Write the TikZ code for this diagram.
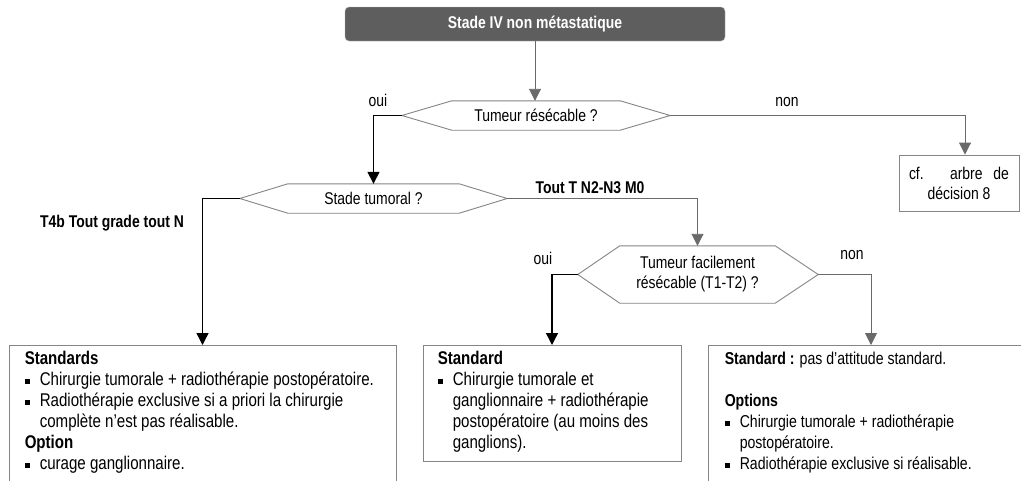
\documentclass[tikz,border=0pt]{standalone}
\usepackage{fontspec}
\setmainfont[FakeStretch=0.82]{Liberation Sans}
\usetikzlibrary{arrows.meta}

\definecolor{titre}{HTML}{5E5E5E}
\definecolor{trait}{HTML}{6A6A6A}
\definecolor{bord}{HTML}{858585}

\newcommand{\puce}{\makebox[15pt][l]{\raisebox{2pt}{\rule{5pt}{5pt}}}}
\newcommand{\suite}{\hspace*{15pt}}

\begin{document}
\begin{tikzpicture}[
	x=1pt,
	y=-1pt,
	font=\fontsize{17}{19}\selectfont,
	fleche/.style={draw=trait, line width=0.9pt,
		-{Triangle[length=12pt,width=12pt]}},
	flechenoire/.style={draw=black, line width=1.4pt,
		-{Triangle[length=12pt,width=12pt]}},
	question/.style={inner sep=0pt, align=center,
		font=\fontsize{17}{20}\selectfont},
	hexa/.style={draw=bord, line width=0.9pt},
	boite/.style={draw=bord, line width=0.9pt, anchor=north},
	texte/.style={anchor=north west, inner sep=0pt, align=left,
		font=\fontsize{18.4}{21}\selectfont}]

\useasboundingbox (0,0) rectangle (1021,480);
\path[fill=white] (0,0) rectangle (1021,480);
\clip (0,0) rectangle (1021,480);

% title
\node[fill=titre, draw=bord!60, rounded corners=4pt, text=white,
	font=\fontsize{17}{19}\bfseries, minimum width=380, minimum height=34]
	(stade) at (535,24) {Stade IV non métastatique};

% first question
\node[question, minimum width=168, minimum height=29]
	(resec) at (536,115.5) {Tumeur résécable ?};
\draw[hexa] (resec.north west) -- (resec.north east)
	-- ([xshift=50pt]resec.east) coordinate (resec-d)
	-- (resec.south east) -- (resec.south west)
	-- ([xshift=-50pt]resec.west) coordinate (resec-g) -- cycle;
\node (oui1) at (378,100) {oui};
\node (non1) at (787,102) {non};

\node[draw=bord, line width=0.9pt, minimum width=120, minimum height=56,
	inner sep=0pt, align=center, font=\fontsize{17}{20}\selectfont]
	(cf) at (959,183) {\makebox[100pt][s]{cf. arbre de}\\décision 8};

% second question
\node[question, minimum width=171, minimum height=29]
	(tumo) at (373.5,198.5) {Stade tumoral ?};
\draw[hexa] (tumo.north west) -- (tumo.north east)
	-- ([xshift=48pt]tumo.east) coordinate (tumo-d)
	-- (tumo.south east) -- (tumo.south west)
	-- ([xshift=-48pt]tumo.west) coordinate (tumo-g) -- cycle;
\node[font=\fontsize{17}{19}\bfseries] (t4b) at (112,223)
	{T4b Tout grade tout N};
\node[font=\fontsize{17}{19}\bfseries] (toutT) at (590,188)
	{Tout T N2-N3 M0};

% third question
\node[question, minimum width=155, minimum height=57]
	(facil) at (697.5,274.5) {Tumeur facilement\\résécable (T1-T2) ?};
\draw[hexa] (facil.north west) -- (facil.north east)
	-- ([xshift=43pt]facil.east) coordinate (facil-d)
	-- (facil.south east) -- (facil.south west)
	-- ([xshift=-42pt]facil.west) coordinate (facil-g) -- cycle;
\node (oui2) at (543,258) {oui};
\node (non2) at (852,255) {non};

% results
\node[boite, minimum width=387, minimum height=160] (b1) at (202.5,345) {};
\node[texte] (t1) at ([xshift=16pt,yshift=-6pt]b1.north west)
	{\textbf{Standards}\\
	\puce Chirurgie tumorale + radiothérapie postopératoire.\\
	\puce Radiothérapie exclusive si a priori la chirurgie\\
	\suite complète n’est pas réalisable.\\
	\textbf{Option}\\
	\puce curage ganglionnaire.};

\node[boite, minimum width=258, minimum height=116] (b2) at (552,345) {};
\node[texte] (t2) at ([xshift=15pt,yshift=-6pt]b2.north west)
	{\textbf{Standard}\\
	\puce Chirurgie tumorale et\\
	\suite ganglionnaire + radiothérapie\\
	\suite postopératoire (au moins des\\
	\suite ganglions).};

\node[boite, minimum width=326, minimum height=160] (b3) at (871,345) {};
\node[texte, font=\fontsize{17.2}{21}\selectfont] (t3)
	at ([xshift=17pt,yshift=-7pt]b3.north west)
	{\textbf{Standard :} pas d’attitude standard.\\[21pt]
	\textbf{Options}\\
	\puce Chirurgie tumorale + radiothérapie\\
	\suite postopératoire.\\
	\puce Radiothérapie exclusive si réalisable.};

% links
\draw[fleche] (stade.south) -- (stade.south |- resec.north);
\draw[flechenoire] (resec-g) -| (tumo.north);
\draw[fleche] (resec-d) -| ([xshift=6pt]cf.north);
\draw[flechenoire] (tumo-g) -| (b1.north);
\draw[fleche] (tumo-d) -| (facil.north);
\draw[flechenoire] (facil-g) -| (b2.north);
\draw[fleche] (facil-d) -| (b3.north);
\end{tikzpicture}
\end{document}
